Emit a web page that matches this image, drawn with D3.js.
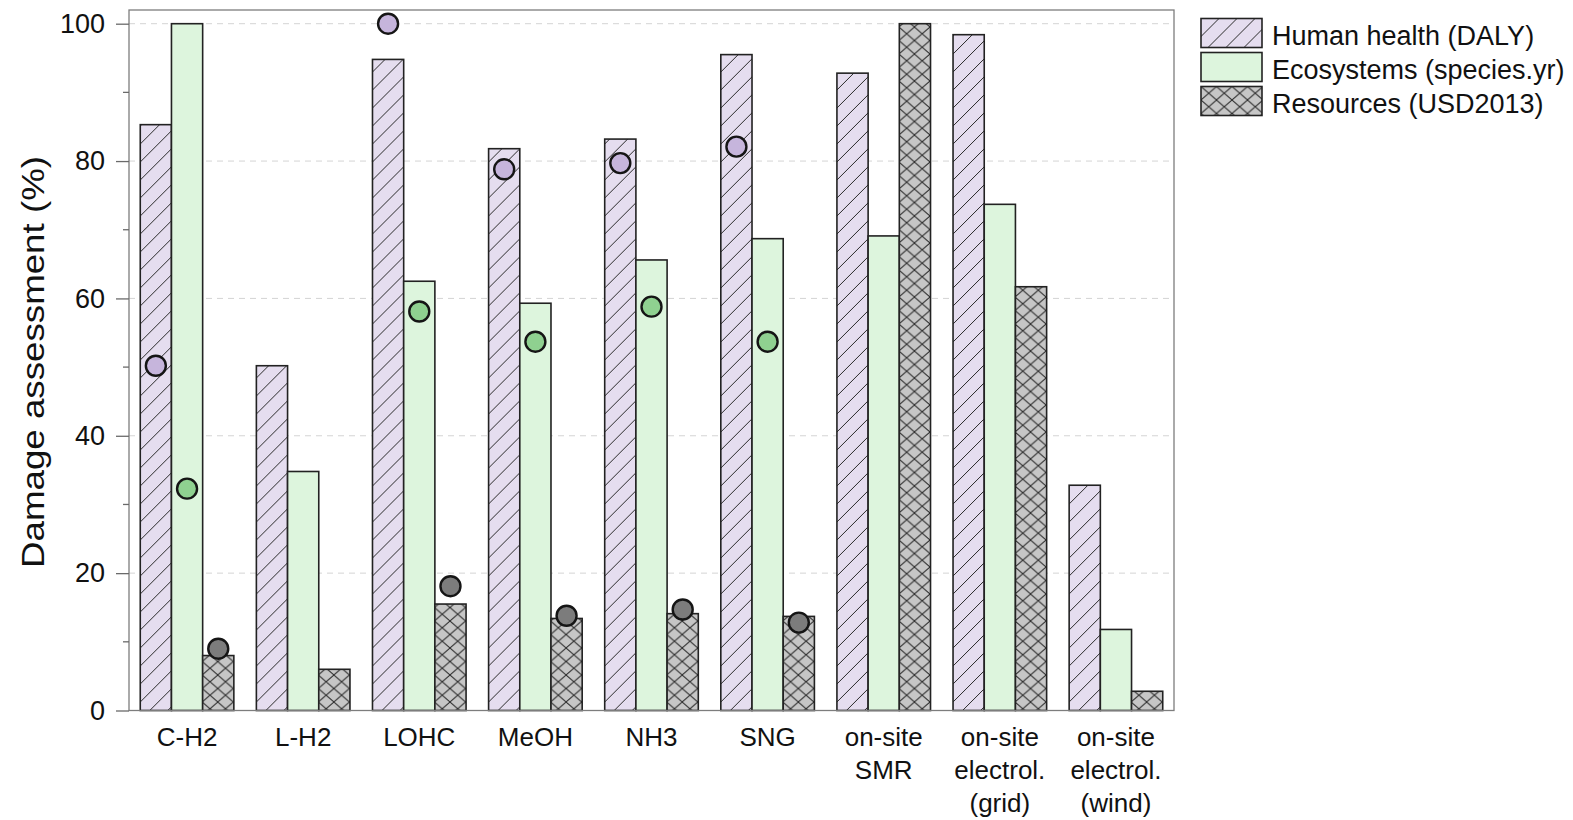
<!DOCTYPE html>
<html>
<head>
<meta charset="utf-8">
<script src="https://cdn.jsdelivr.net/npm/d3@7/dist/d3.min.js"></script>
<style>
  html, body { margin: 0; padding: 0; background: #fff; }
  svg { display: block; font-family: "Liberation Sans", Arial, sans-serif; }
</style>
</head>
<body>
<svg id="chart" width="1573" height="820"></svg>
<script>
// Damage assessment per hydrogen supply pathway (% of the highest value)
const categories = [
  ["C-H2"], ["L-H2"], ["LOHC"], ["MeOH"], ["NH3"], ["SNG"],
  ["on-site", "SMR"], ["on-site", "electrol.", "(grid)"], ["on-site", "electrol.", "(wind)"]
];
const seriesNames = ["Human health (DALY)", "Ecosystems (species.yr)", "Resources (USD2013)"];

// bar heights
const humanHealth = [85.3, 50.2, 94.8, 81.8, 83.2, 95.5, 92.8, 98.4, 32.8];
const ecosystems  = [100, 34.8, 62.5, 59.3, 65.6, 68.7, 69.1, 73.7, 11.8];
const resources   = [8.0, 6.0, 15.5, 13.4, 14.1, 13.7, 100, 61.7, 2.8];

// point markers (null where no marker is shown)
const humanHealthPts = [50.2, null, 100, 78.8, 79.7, 82.1, null, null, null];
const ecosystemsPts  = [32.3, null, 58.1, 53.7, 58.8, 53.7, null, null, null];
const resourcesPts   = [9.0, null, 18.1, 13.8, 14.7, 12.8, null, null, null];

const yMajorTicks = [0, 20, 40, 60, 80, 100];
const yMinorTicks = [10, 30, 50, 70, 90];

const barSeries = [humanHealth, ecosystems, resources];
const ptSeries = [humanHealthPts, ecosystemsPts, resourcesPts];
const fills = ["url(#hatch)", "#ddf5dd", "url(#cross)"];
const dotFills = ["#c6b5dc", "#8fd190", "#7c7c7c"];

const svg = d3.select("#chart");
const L = 129, R = 1174, T = 10, B = 710.5;

const catKeys = categories.map(c => c.join(" "));
const x0 = d3.scaleBand().domain(catKeys).range([L, R]).paddingInner(0.194).paddingOuter(0.097);
const x1 = d3.scaleBand().domain([0, 1, 2]).range([0, x0.bandwidth()]);
const y = d3.scaleLinear().domain([0, 100]).range([B, 23.7]);

// patterns
const defs = svg.append("defs");
const hp = defs.append("pattern").attr("id", "hatch").attr("patternUnits", "userSpaceOnUse")
  .attr("width", 18).attr("height", 18);
hp.append("rect").attr("width", 18).attr("height", 18).attr("fill", "#e5ddef");
hp.append("path").attr("d", "M-4.5,4.5 L4.5,-4.5 M0,18 L18,0 M13.5,22.5 L22.5,13.5")
  .attr("stroke", "#2a2a2a").attr("stroke-width", 1);

const cp = defs.append("pattern").attr("id", "cross").attr("patternUnits", "userSpaceOnUse")
  .attr("width", 15.5).attr("height", 13.5);
cp.append("rect").attr("width", 15.5).attr("height", 13.5).attr("fill", "#c6c6c6");
cp.append("path").attr("d", "M0,0 L15.5,13.5 M0,13.5 L15.5,0")
  .attr("stroke", "#2a2a2a").attr("stroke-width", 1);

// gridlines
svg.append("g").selectAll("line").data(yMajorTicks.filter(d => d > 0)).join("line")
  .attr("x1", L).attr("x2", R).attr("y1", d => y(d)).attr("y2", d => y(d))
  .attr("stroke", "#d4d4d4").attr("stroke-width", 1).attr("stroke-dasharray", "6,5");

// bars
const groups = svg.append("g").selectAll("g").data(catKeys).join("g")
  .attr("transform", d => `translate(${x0(d)},0)`);

groups.selectAll("rect").data((d, i) => barSeries.map((s, k) => ({k, v: s[i]}))).join("rect")
  .attr("x", d => x1(d.k)).attr("width", x1.bandwidth())
  .attr("y", d => y(d.v)).attr("height", d => y(0) - y(d.v))
  .attr("fill", d => fills[d.k]).attr("stroke", "#222").attr("stroke-width", 1.6);

// markers
groups.selectAll("circle").data((d, i) => ptSeries.map((s, k) => ({k, v: s[i]})).filter(d => d.v != null))
  .join("circle")
  .attr("cx", d => x1(d.k) + x1.bandwidth() / 2).attr("cy", d => y(d.v)).attr("r", 10)
  .attr("fill", d => dotFills[d.k]).attr("stroke", "#151515").attr("stroke-width", 2.4);

// frame
svg.append("rect").attr("x", L).attr("y", T).attr("width", R - L).attr("height", B - T)
  .attr("fill", "none").attr("stroke", "#7d7d7d").attr("stroke-width", 1.3);

// y axis
const yAxis = svg.append("g").attr("transform", `translate(${L},0)`)
  .call(d3.axisLeft(y).tickValues(yMajorTicks).tickSize(13).tickPadding(11).tickSizeOuter(0));
yAxis.select(".domain").remove();
yAxis.selectAll(".tick line").attr("stroke", "#6a6a6a").attr("stroke-width", 1.3);
yAxis.selectAll(".tick text").attr("font-size", 27).attr("fill", "#111")
  .attr("font-family", "'Liberation Sans', Arial, sans-serif");
svg.append("g").selectAll("line").data(yMinorTicks).join("line")
  .attr("x1", L - 6).attr("x2", L).attr("y1", d => y(d)).attr("y2", d => y(d))
  .attr("stroke", "#6a6a6a").attr("stroke-width", 1.3);

// category labels
const xl = svg.append("g").selectAll("text").data(categories).join("text")
  .attr("x", (d, i) => x0(catKeys[i]) + x0.bandwidth() / 2)
  .attr("y", 746).attr("text-anchor", "middle").attr("font-size", 26).attr("fill", "#111");
xl.selectAll("tspan").data(d => d).join("tspan")
  .attr("x", function () { return d3.select(this.parentNode).attr("x"); })
  .attr("dy", (d, i) => i === 0 ? 0 : 33).text(d => d);

// y title
svg.append("text").attr("transform", "translate(44,362) rotate(-90)")
  .attr("text-anchor", "middle").attr("font-size", 31).attr("fill", "#111")
  .attr("textLength", 412).attr("lengthAdjust", "spacingAndGlyphs")
  .text("Damage assessment (%)");

// legend
const lg = svg.append("g").selectAll("g").data(seriesNames).join("g")
  .attr("transform", (d, i) => `translate(1201,${18.5 + i * 34})`);
lg.append("rect").attr("width", 61).attr("height", 29)
  .attr("fill", (d, i) => fills[i]).attr("stroke", "#222").attr("stroke-width", 1.6);
lg.append("text").attr("x", 71).attr("y", 26.5).attr("font-size", 27).attr("fill", "#111").text(d => d);
</script>
</body>
</html>
